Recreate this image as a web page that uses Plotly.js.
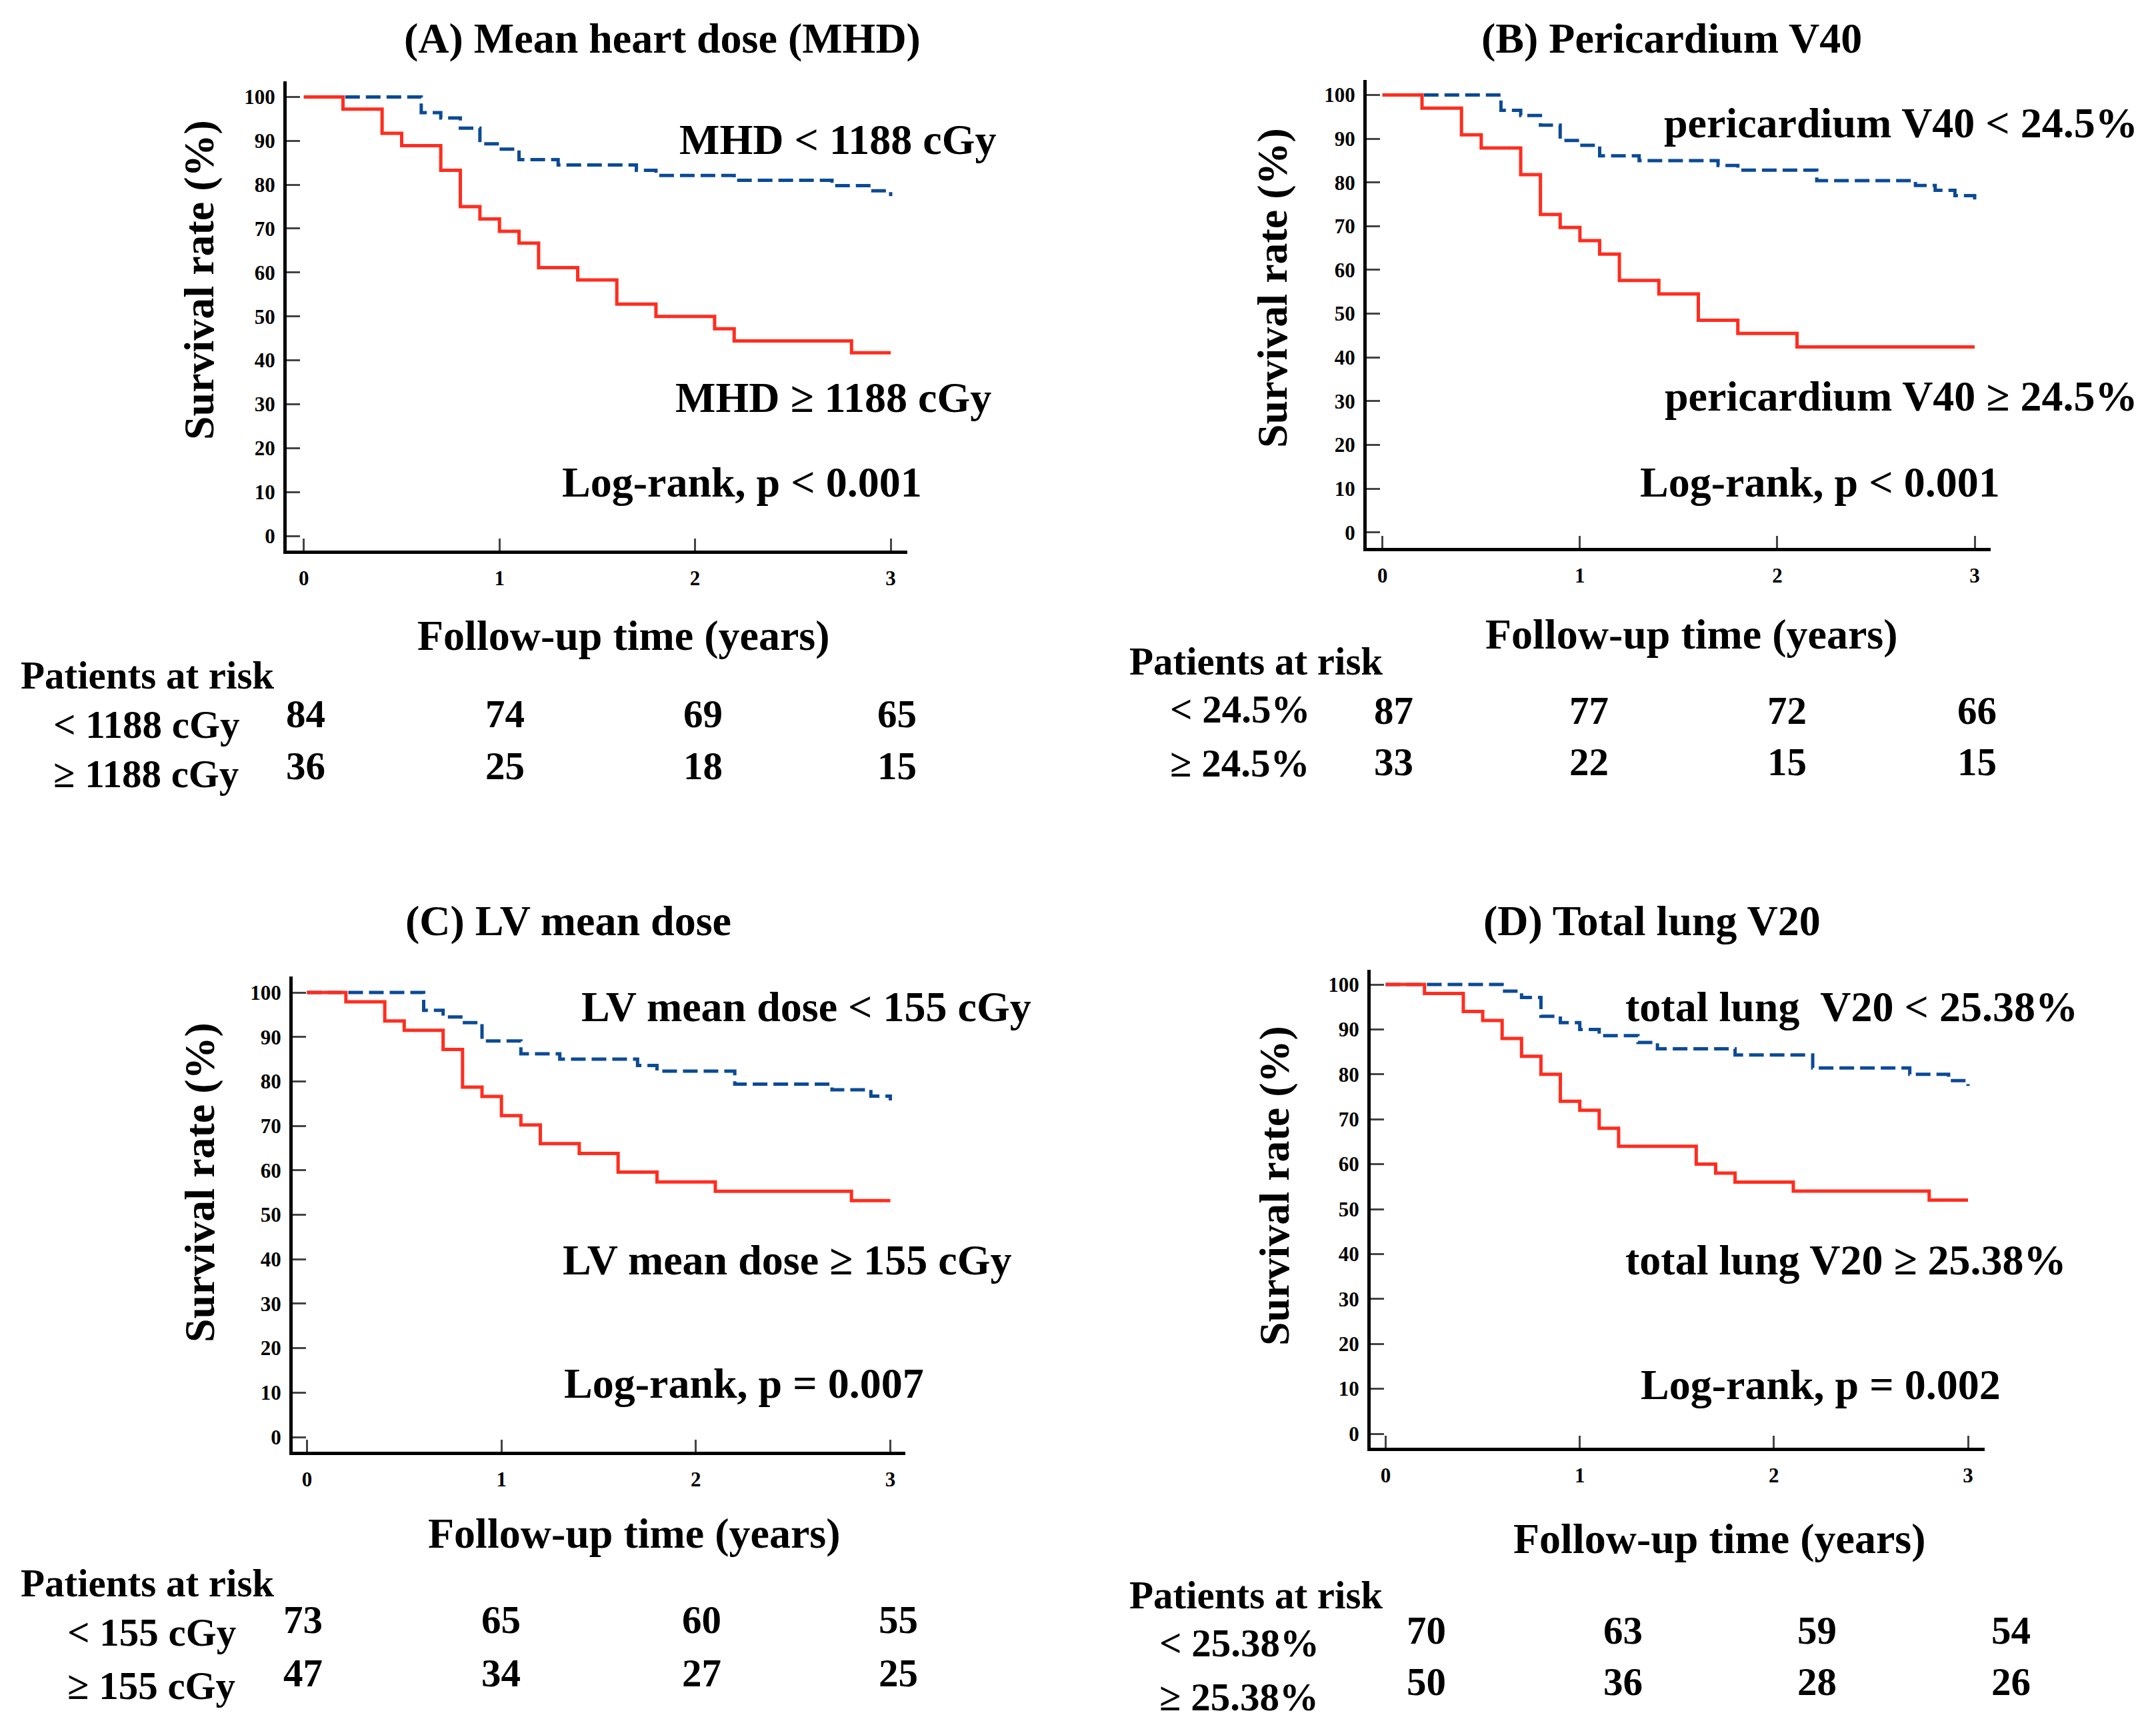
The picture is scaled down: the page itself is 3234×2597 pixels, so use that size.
<!DOCTYPE html>
<html>
<head>
<meta charset="utf-8">
<script src="https://cdn.plot.ly/plotly-3.0.1.min.js"></script>
<style>html,body{margin:0;padding:0;background:#fff;}#chart{width:3234px;height:2597px;}</style>
</head>
<body>
<div id="chart"></div>
<script>
// ---------------- DATA ----------------
const yearTicks = [0, 1, 2, 3];
const survivalTicks = [0, 10, 20, 30, 40, 50, 60, 70, 80, 90, 100];

const panelTitles = ["(A) Mean heart dose (MHD)", "(B) Pericardium V40", "(C) LV mean dose", "(D) Total lung V20"];
const lowLabels = ["MHD &lt; 1188 cGy", "pericardium V40 &lt; 24.5%", "LV mean dose &lt; 155 cGy", "total lung&nbsp; V20 &lt; 25.38%"];
const highLabels = ["MHD ≥ 1188 cGy", "pericardium V40 ≥ 24.5%", "LV mean dose ≥ 155 cGy", "total lung V20 ≥ 25.38%"];
const logRankLabels = ["Log-rank, p &lt; 0.001", "Log-rank, p &lt; 0.001", "Log-rank, p = 0.007", "Log-rank, p = 0.002"];
const riskLowLabels = ["&lt; 1188 cGy", "&lt; 24.5%", "&lt; 155 cGy", "&lt; 25.38%"];
const riskHighLabels = ["≥ 1188 cGy", "≥ 24.5%", "≥ 155 cGy", "≥ 25.38%"];

// Panel A: MHD
const aLowTime  = [0, 0.6, 0.7, 0.8, 0.9, 1.0, 1.1, 1.3, 1.7, 1.8, 2.2, 2.7, 2.9, 3.0];
const aLowSurv  = [100, 96.4, 95.2, 92.9, 89.3, 88.1, 85.7, 84.5, 83.3, 82.1, 81.0, 79.8, 78.6, 77.4];
const aHighTime = [0, 0.2, 0.4, 0.5, 0.7, 0.8, 0.9, 1.0, 1.1, 1.2, 1.4, 1.6, 1.8, 2.1, 2.2, 2.8, 3.0];
const aHighSurv = [100, 97.2, 91.7, 88.9, 83.3, 75.0, 72.2, 69.4, 66.7, 61.1, 58.3, 52.8, 50.0, 47.2, 44.4, 41.7, 41.7];
const aRiskLow  = [84, 74, 69, 65];
const aRiskHigh = [36, 25, 18, 15];

// Panel B: Pericardium V40
const bLowTime  = [0, 0.6, 0.7, 0.8, 0.9, 1.0, 1.1, 1.3, 1.7, 1.8, 2.2, 2.7, 2.8, 2.9, 3.0];
const bLowSurv  = [100, 96.5, 95.3, 93.1, 89.6, 88.5, 86.1, 85.0, 83.9, 82.8, 80.4, 79.3, 78.2, 77.0, 75.9];
const bHighTime = [0, 0.2, 0.4, 0.5, 0.7, 0.8, 0.9, 1.0, 1.1, 1.2, 1.4, 1.6, 1.8, 2.1, 3.0];
const bHighSurv = [100, 97.0, 90.9, 87.9, 81.8, 72.7, 69.7, 66.7, 63.6, 57.6, 54.5, 48.5, 45.5, 42.4, 42.4];
const bRiskLow  = [87, 77, 72, 66];
const bRiskHigh = [33, 22, 15, 15];

// Panel C: LV mean dose
const cLowTime  = [0, 0.6, 0.7, 0.8, 0.9, 1.1, 1.3, 1.7, 1.8, 2.2, 2.7, 2.9, 3.0];
const cLowSurv  = [100, 96.0, 94.5, 93.2, 89.1, 86.2, 85.0, 83.6, 82.3, 79.4, 78.1, 76.7, 75.7];
const cHighTime = [0, 0.2, 0.4, 0.5, 0.7, 0.8, 0.9, 1.0, 1.1, 1.2, 1.4, 1.6, 1.8, 2.1, 2.8, 3.0];
const cHighSurv = [100, 97.9, 93.6, 91.5, 87.2, 78.7, 76.6, 72.3, 70.2, 66.0, 63.8, 59.6, 57.4, 55.3, 53.2, 53.2];
const cRiskLow  = [73, 65, 60, 55];
const cRiskHigh = [47, 34, 27, 25];

// Panel D: Total lung V20
const dLowTime  = [0, 0.6, 0.7, 0.8, 0.9, 1.0, 1.1, 1.3, 1.4, 1.8, 2.2, 2.7, 2.9, 3.0];
const dLowSurv  = [100, 98.5, 97.1, 92.9, 91.5, 90.0, 88.6, 87.1, 85.7, 84.3, 81.4, 80.0, 78.6, 77.4];
const dHighTime = [0, 0.2, 0.4, 0.5, 0.6, 0.7, 0.8, 0.9, 1.0, 1.1, 1.2, 1.6, 1.7, 1.8, 2.1, 2.8, 3.0];
const dHighSurv = [100, 98, 94, 92, 88, 84, 80, 74, 72, 68, 64, 60, 58, 56, 54, 52, 52];
const dRiskLow  = [70, 63, 59, 54];
const dRiskHigh = [50, 36, 28, 26];

// ---------------- LAYOUT (pixel geometry) ----------------
const W = 3234, H = 2597;
const FONT = "Liberation Serif, 'Times New Roman', serif";
const RED = "#ff2d1f", BLUE = "#0b4a96";
const px = x => x / W;
const py = y => 1 - y / H;

const panels = [
  { low: [aLowTime, aLowSurv], high: [aHighTime, aHighSurv], risk: [aRiskLow, aRiskHigh],
    box: {l: 430, r: 1361, t: 122, b: 826}, x0: 455.8, x3: 1336, y100: 145.4, y0: 804,
    title: [994, 58], lowAnn: [1257, 210], highAnn: [1250, 596], lr: [1113, 724],
    ytitle: [299, 420], xtitle: [935, 953],
    par: [29, 1013], rl: [78, 1087], rh: [78, 1161], riskX: [458, 757, 1054, 1345], riskY: [1071, 1149] },
  { low: [bLowTime, bLowSurv], high: [bHighTime, bHighSurv], risk: [bRiskLow, bRiskHigh],
    box: {l: 2050, r: 2986, t: 120, b: 822}, x0: 2073.8, x3: 2962, y100: 142.5, y0: 798.7,
    title: [2507, 58], lowAnn: [2851, 184], highAnn: [2851, 594], lr: [2730, 724],
    ytitle: [1908, 432], xtitle: [2537, 951],
    par: [1692, 992], rl: [1753, 1064], rh: [1753, 1145], riskX: [2090, 2383, 2680, 2965], riskY: [1066, 1143] },
  { low: [cLowTime, cLowSurv], high: [cHighTime, cHighSurv], risk: [cRiskLow, cRiskHigh],
    box: {l: 439, r: 1358, t: 1465, b: 2178}, x0: 460.5, x3: 1335.5, y100: 1489, y0: 2156,
    title: [852, 1382], lowAnn: [1209, 1510], highAnn: [1180, 1890], lr: [1116, 2075],
    ytitle: [299, 1774], xtitle: [951, 2300],
    par: [29, 2375], rl: [99, 2449], rh: [99, 2529], riskX: [454, 751, 1052, 1347], riskY: [2430, 2510] },
  { low: [dLowTime, dLowSurv], high: [dHighTime, dHighSurv], risk: [dRiskLow, dRiskHigh],
    box: {l: 2056, r: 2977, t: 1455, b: 2172}, x0: 2078.5, x3: 2952, y100: 1477, y0: 2151,
    title: [2478, 1382], lowAnn: [2777, 1510], highAnn: [2769, 1890], lr: [2731, 2077],
    ytitle: [1912, 1779], xtitle: [2579, 2308],
    par: [1692, 2393], rl: [1737, 2465], rh: [1737, 2546], riskX: [2139, 2434, 2725, 3016], riskY: [2446, 2523] }
];

const traces = [];
const annotations = [];
const layout = {
  width: W, height: H,
  margin: {l: 0, r: 0, t: 0, b: 0},
  paper_bgcolor: "#ffffff", plot_bgcolor: "#ffffff",
  showlegend: false,
  font: {family: FONT, color: "#000", weight: "bold"},
  annotations: annotations
};

function ann(text, x, y, size, opts) {
  annotations.push(Object.assign({
    text: text, xref: "paper", yref: "paper", x: px(x), y: py(y),
    xanchor: "center", yanchor: "middle", showarrow: false,
    font: {family: FONT, size: size, color: "#000", weight: "bold"}
  }, opts || {}));
}

panels.forEach((p, i) => {
  const n = i === 0 ? "" : String(i + 1);
  const xs = (p.x3 - p.x0) / 3;          // px per year
  const ys = (p.y0 - p.y100) / 100;      // px per percent
  const xr = [(p.box.l - p.x0) / xs, (p.box.r - p.x0) / xs];
  const yr = [-(p.box.b - p.y0) / ys, 100 + (p.y100 - p.box.t) / ys];

  layout["xaxis" + n] = {
    domain: [px(p.box.l), px(p.box.r)], range: xr, anchor: "y" + n,
    showline: true, linecolor: "#000", linewidth: 5,
    ticks: "inside", ticklen: 18, tickwidth: 3, tickcolor: "#444",
    tickmode: "array", tickvals: yearTicks, ticktext: yearTicks.map(String),
    tickfont: {family: FONT, size: 31, color: "#000", weight: "bold"},
    ticklabelstandoff: 10,
    showgrid: false, zeroline: false, fixedrange: true
  };
  layout["yaxis" + n] = {
    domain: [py(p.box.b), py(p.box.t)], range: yr, anchor: "x" + n,
    showline: true, linecolor: "#000", linewidth: 5,
    ticks: "inside", ticklen: 20, tickwidth: 3, tickcolor: "#444",
    tickmode: "array", tickvals: survivalTicks, ticktext: survivalTicks.map(String),
    tickfont: {family: FONT, size: 31, color: "#000", weight: "bold"},
    ticklabelstandoff: 6,
    showgrid: false, zeroline: false, fixedrange: true
  };

  traces.push({
    x: p.low[0], y: p.low[1], xaxis: "x" + n, yaxis: "y" + n,
    type: "scatter", mode: "lines", line: {shape: "hv", color: BLUE, width: 5, dash: "22px,9px"},
    hoverinfo: "skip"
  });
  traces.push({
    x: p.high[0], y: p.high[1], xaxis: "x" + n, yaxis: "y" + n,
    type: "scatter", mode: "lines", line: {shape: "hv", color: RED, width: 5},
    hoverinfo: "skip"
  });

  ann(panelTitles[i], p.title[0], p.title[1], 64);
  ann(lowLabels[i], p.lowAnn[0], p.lowAnn[1], 64);
  ann(highLabels[i], p.highAnn[0], p.highAnn[1], 64);
  ann(logRankLabels[i], p.lr[0], p.lr[1], 64);
  ann("Survival rate (%)", p.ytitle[0], p.ytitle[1], 64, {textangle: -90});
  ann("Follow-up time (years)", p.xtitle[0], p.xtitle[1], 64);
  ann("Patients at risk", p.par[0], p.par[1], 59, {xanchor: "left"});
  ann(riskLowLabels[i], p.rl[0], p.rl[1], 59, {xanchor: "left"});
  ann(riskHighLabels[i], p.rh[0], p.rh[1], 59, {xanchor: "left"});
  p.risk[0].forEach((v, k) => ann(String(v), p.riskX[k], p.riskY[0], 59));
  p.risk[1].forEach((v, k) => ann(String(v), p.riskX[k], p.riskY[1], 59));
});

Plotly.newPlot("chart", traces, layout, {staticPlot: true, displayModeBar: false});
</script>
</body>
</html>
